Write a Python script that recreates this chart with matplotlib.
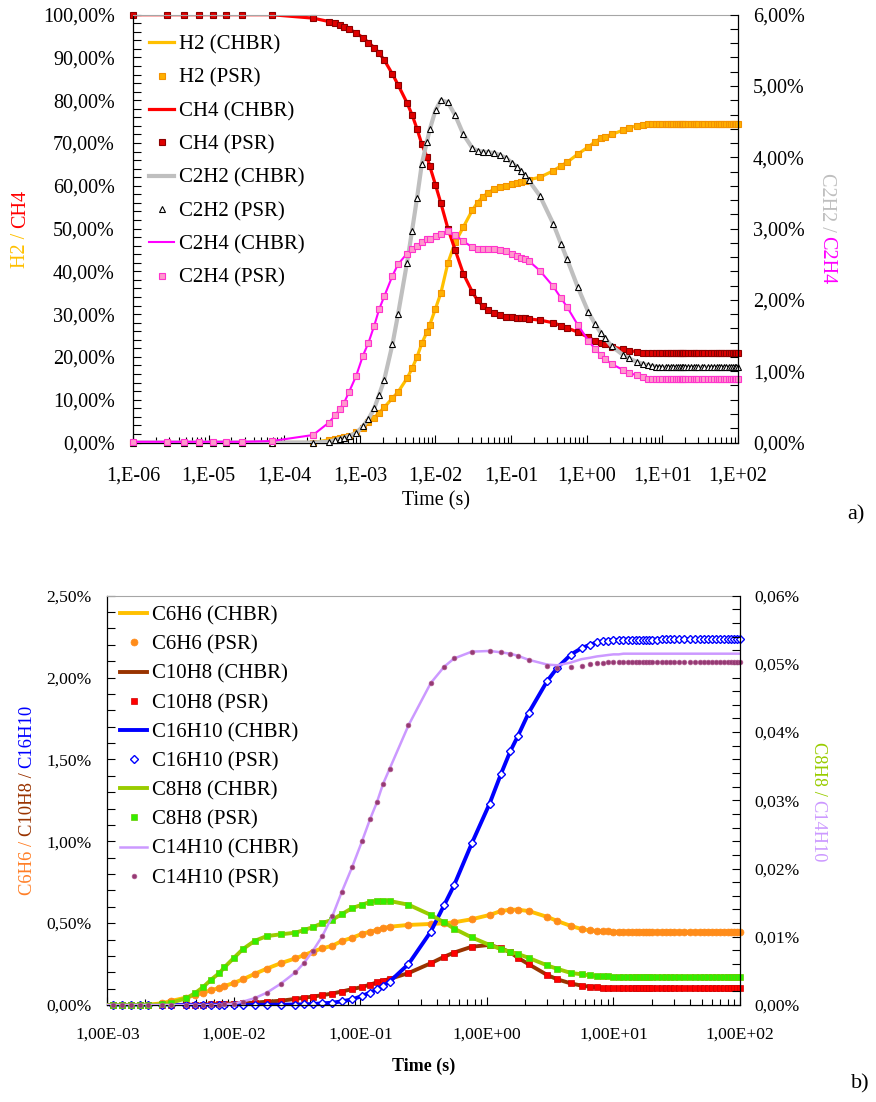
import numpy as np
import matplotlib
matplotlib.use("Agg")
import matplotlib.pyplot as plt
from matplotlib.ticker import (MultipleLocator, FuncFormatter, LogLocator,
                               NullFormatter, FixedLocator, FixedFormatter)
from matplotlib.lines import Line2D
from matplotlib.transforms import IdentityTransform

# ------------------------------------------------------------------ data
# PSR output times (s), shared by both panels
time_s = [1.0e-6, 2.8e-6, 4.7e-6, 7.5e-6, 1.15e-5, 1.7e-5, 2.75e-5, 6.8e-5, 2.4e-4,
          3.9e-4, 4.7e-4, 5.4e-4, 6.2e-4, 7.2e-4, 8.9e-4,
          1.1e-3, 1.3e-3, 1.55e-3, 1.8e-3, 2.1e-3, 2.7e-3, 3.2e-3, 4.2e-3, 4.9e-3, 5.7e-3,
          6.6e-3, 7.7e-3, 8.4e-3, 1.0e-2, 1.18e-2, 1.46e-2, 1.82e-2, 2.34e-2, 3.07e-2, 3.6e-2,
          4.2e-2, 5.0e-2, 6.0e-2, 7.1e-2, 8.6e-2, 0.103, 0.119, 0.135, 0.151, 0.17,
          0.24, 0.36, 0.46, 0.55, 0.76, 1.05, 1.29, 1.53, 1.75, 2.14,
          3.0, 3.6, 4.6, 5.6, 6.5, 7.4, 8.2, 9.0, 10, 11,
          12, 13, 14, 15, 16, 17, 18, 19, 20, 22,
          24, 26, 28, 30, 33, 36, 40, 44, 48, 52,
          56, 60, 65, 70, 75, 80, 85, 90, 95, 100]

# panel a) left axis (%)
h2_pct = [0, 0, 0, 0, 0, 0, 0, 0, 0,
          0.6, 0.8, 1.0, 1.3, 1.6, 2.4,
          3.5, 4.7, 5.8, 7.0, 8.2, 10.4, 11.8, 15.0, 17.3, 20.0,
          23.2, 25.8, 27.5, 31.3, 35.0, 42.0, 46.8, 50.4, 54.3, 56.1,
          57.4, 58.4, 59.3, 59.7, 60.0, 60.4, 60.6, 60.8, 61.1, 61.4,
          62.0, 63.5, 64.7, 65.5, 67.4, 69.1, 70.3, 71.1, 71.5, 72.0,
          73.0, 73.6, 74.0, 74.3, 74.4, 74.5, 74.5, 74.5, 74.5, 74.5,
          74.5, 74.5, 74.5, 74.5, 74.5, 74.5, 74.5, 74.5, 74.5, 74.5,
          74.5, 74.5, 74.5, 74.5, 74.5, 74.5, 74.5, 74.5, 74.5, 74.5,
          74.5, 74.5, 74.5, 74.5, 74.5, 74.5, 74.5, 74.5, 74.5, 74.5]
ch4_pct = [100, 100, 100, 100, 100, 100, 100, 100, 99.2,
           98.4, 98.0, 97.6, 97.2, 96.6, 95.8,
           94.6, 93.5, 92.3, 91.0, 89.4, 86.1, 83.6, 79.4, 76.6, 73.3,
           69.7, 66.8, 64.6, 60.2, 55.9, 50.0, 45.0, 39.4, 35.2, 33.2,
           32.0, 31.0, 30.2, 29.7, 29.4, 29.3, 29.2, 29.1, 29.0, 28.9,
           28.6, 28.0, 27.3, 26.8, 25.8, 24.6, 23.8, 23.3, 23.0, 22.4,
           21.8, 21.5, 21.2, 21.0, 20.95, 20.9, 20.85, 20.85, 20.85, 20.85,
           20.85, 20.85, 20.85, 20.85, 20.85, 20.85, 20.85, 20.85, 20.85, 20.85,
           20.85, 20.85, 20.85, 20.85, 20.85, 20.85, 20.85, 20.85, 20.85, 20.85,
           20.85, 20.85, 20.85, 20.85, 20.85, 20.85, 20.85, 20.85, 20.85, 20.85]
# panel a) right axis (%)
c2h2_pct = [0, 0, 0, 0, 0, 0, 0, 0, 0,
            0.01, 0.035, 0.05, 0.07, 0.09, 0.13,
            0.23, 0.33, 0.48, 0.67, 0.88, 1.38, 1.80, 2.52, 2.97, 3.43,
            3.91, 4.22, 4.39, 4.66, 4.80, 4.77, 4.59, 4.32, 4.13, 4.09,
            4.08, 4.07, 4.06, 4.03, 3.99, 3.92, 3.87, 3.81, 3.75, 3.68,
            3.46, 3.07, 2.78, 2.57, 2.18, 1.83, 1.66, 1.54, 1.46, 1.35,
            1.23, 1.18, 1.13, 1.10, 1.08, 1.07, 1.065, 1.06, 1.055, 1.055,
            1.055, 1.055, 1.055, 1.055, 1.055, 1.055, 1.055, 1.055, 1.055, 1.055,
            1.055, 1.055, 1.055, 1.055, 1.055, 1.055, 1.055, 1.055, 1.055, 1.055,
            1.055, 1.055, 1.055, 1.055, 1.055, 1.055, 1.055, 1.055, 1.055, 1.055]
c2h4_pct = [0.01, 0.01, 0.01, 0.01, 0.01, 0.01, 0.01, 0.02, 0.105,
            0.28, 0.38, 0.47, 0.56, 0.71, 0.93,
            1.22, 1.40, 1.64, 1.87, 2.05, 2.34, 2.50, 2.65, 2.71, 2.76,
            2.81, 2.85, 2.86, 2.90, 2.93, 2.96, 2.91, 2.82, 2.74, 2.71,
            2.71, 2.71, 2.71, 2.70, 2.69, 2.65, 2.62, 2.59, 2.57, 2.55,
            2.41, 2.19, 2.02, 1.90, 1.65, 1.43, 1.31, 1.23, 1.17, 1.10,
            1.02, 0.98, 0.94, 0.915, 0.895, 0.89, 0.888, 0.886, 0.886, 0.886,
            0.886, 0.886, 0.886, 0.886, 0.886, 0.886, 0.886, 0.886, 0.886, 0.886,
            0.886, 0.886, 0.886, 0.886, 0.886, 0.886, 0.886, 0.886, 0.886, 0.886,
            0.886, 0.886, 0.886, 0.886, 0.886, 0.886, 0.886, 0.886, 0.886, 0.886]

# panel b) uses the output times from 8.9e-4 s on
time_b = time_s[14:]
# panel b) left axis (%)
c6h6_pct = [0, 0, 0, 0, 0, 0.002,
            0.01, 0.025, 0.045, 0.06, 0.075,
            0.09, 0.105, 0.115, 0.135, 0.157, 0.19, 0.222, 0.255, 0.285, 0.305,
            0.326, 0.346, 0.362, 0.39, 0.411, 0.434, 0.448, 0.458, 0.469, 0.478,
            0.489, 0.495, 0.499, 0.505, 0.524, 0.550, 0.574, 0.582, 0.582, 0.574,
            0.538, 0.513, 0.483, 0.464, 0.456, 0.452, 0.450, 0.449, 0.448, 0.448,
            0.448, 0.448, 0.448, 0.448, 0.448, 0.448, 0.448, 0.448, 0.448, 0.448,
            0.448, 0.448, 0.448, 0.448, 0.448, 0.448, 0.448, 0.448, 0.448, 0.448,
            0.448, 0.448, 0.448, 0.448, 0.448, 0.448, 0.448, 0.448, 0.448, 0.448]
c10h8_pct = [0, 0, 0, 0, 0, 0,
             0, 0, 0.001, 0.002, 0.003,
             0.004, 0.006, 0.007, 0.009, 0.011, 0.014, 0.02, 0.026, 0.037, 0.045,
             0.051, 0.06, 0.07, 0.082, 0.097, 0.11, 0.124, 0.138, 0.148, 0.159,
             0.195, 0.255, 0.295, 0.32, 0.356, 0.367, 0.346, 0.322, 0.289, 0.249,
             0.183, 0.157, 0.132, 0.118, 0.112, 0.108, 0.105, 0.103, 0.102, 0.102,
             0.102, 0.102, 0.102, 0.102, 0.102, 0.102, 0.102, 0.102, 0.102, 0.102,
             0.102, 0.102, 0.102, 0.102, 0.102, 0.102, 0.102, 0.102, 0.102, 0.102,
             0.102, 0.102, 0.102, 0.102, 0.102, 0.102, 0.102, 0.102, 0.102, 0.102]
c16h10_pct = [0, 0, 0, 0, 0, 0,
              0, 0, 0, 0, 0,
              0, 0, 0, 0.0005, 0.001, 0.001, 0.0015, 0.002, 0.003, 0.004,
              0.006, 0.01, 0.014, 0.022, 0.034, 0.055, 0.076, 0.095, 0.117, 0.142,
              0.25, 0.448, 0.611, 0.731, 0.988, 1.23, 1.41, 1.55, 1.64, 1.785,
              1.98, 2.06, 2.14, 2.18, 2.20, 2.215, 2.222, 2.226, 2.229, 2.231,
              2.232, 2.232, 2.232, 2.232, 2.232, 2.232, 2.232, 2.232, 2.232, 2.232,
              2.234, 2.234, 2.234, 2.234, 2.234, 2.234, 2.234, 2.234, 2.234, 2.234,
              2.234, 2.234, 2.234, 2.234, 2.234, 2.234, 2.234, 2.234, 2.234, 2.234]
# panel b) right axis (%)
c8h8_pct = [0, 0, 0, 0, 0, 0,
            0.0001, 0.00034, 0.00098, 0.0017, 0.0026,
            0.0037, 0.0047, 0.0055, 0.0069, 0.0082, 0.0094, 0.0101, 0.01036, 0.0106, 0.0110,
            0.0114, 0.0120, 0.0125, 0.0133, 0.0142, 0.0147, 0.0151, 0.01525, 0.0153, 0.01525,
            0.0147, 0.0132, 0.0121, 0.0112, 0.0099, 0.0088, 0.0082, 0.0078, 0.0075, 0.0069,
            0.0058, 0.0053, 0.0047, 0.0045, 0.00435, 0.00425, 0.0042, 0.00418, 0.00416, 0.00415,
            0.00415, 0.00415, 0.00415, 0.00415, 0.00415, 0.00415, 0.00415, 0.00415, 0.00415, 0.00415,
            0.00415, 0.00415, 0.00415, 0.00415, 0.00415, 0.00415, 0.00415, 0.00415, 0.00415, 0.00415,
            0.00415, 0.00415, 0.00415, 0.00415, 0.00415, 0.00415, 0.00415, 0.00415, 0.00415, 0.00415]
c14h10_psr_pct = [0, 0, 0, 0, 0, 0,
                  0, 0, 0, 0, 0,
                  0, 0, 0.0001, 0.0002, 0.0005, 0.001, 0.0018, 0.0031, 0.0048, 0.0062,
                  0.0079, 0.0101, 0.013, 0.0165, 0.0202, 0.0240, 0.0272, 0.0297, 0.0324, 0.0346,
                  0.0410, 0.0472, 0.0496, 0.0508, 0.0518, 0.0519, 0.0517, 0.0515, 0.0512, 0.0506,
                  0.0497, 0.0494, 0.0495, 0.0497, 0.0500, 0.0501, 0.0502, 0.0503, 0.0503, 0.0503,
                  0.0503, 0.0503, 0.0503, 0.0503, 0.0503, 0.0503, 0.0503, 0.0503, 0.0503, 0.0503,
                  0.0503, 0.0503, 0.0503, 0.0503, 0.0503, 0.0503, 0.0503, 0.0503, 0.0503, 0.0503,
                  0.0503, 0.0503, 0.0503, 0.0503, 0.0503, 0.0503, 0.0503, 0.0503, 0.0503, 0.0503]
c14h10_chbr_pct = [0, 0, 0, 0, 0, 0,
                   0, 0, 0, 0, 0,
                   0, 0, 0.0001, 0.0002, 0.0005, 0.001, 0.0018, 0.0031, 0.0048, 0.0062,
                   0.0079, 0.0101, 0.013, 0.0165, 0.0202, 0.0240, 0.0272, 0.0297, 0.0324, 0.0346,
                   0.0410, 0.0472, 0.0496, 0.0508, 0.0518, 0.0519, 0.0517, 0.0515, 0.0512, 0.0506,
                   0.0499, 0.0498, 0.0502, 0.0507, 0.0509, 0.0511, 0.0512, 0.0513, 0.0514, 0.0514,
                   0.0515, 0.0515, 0.0515, 0.0515, 0.0515, 0.0515, 0.0515, 0.0515, 0.0515, 0.0515,
                   0.0515, 0.0515, 0.0515, 0.0515, 0.0515, 0.0515, 0.0515, 0.0515, 0.0515, 0.0515,
                   0.0515, 0.0515, 0.0515, 0.0515, 0.0515, 0.0515, 0.0515, 0.0515, 0.0515, 0.0515]

xticks_a = [1e-6, 1e-5, 1e-4, 1e-3, 1e-2, 1e-1, 1e0, 1e1, 1e2]
xlabels_a = ['1,E-06', '1,E-05', '1,E-04', '1,E-03', '1,E-02', '1,E-01', '1,E+00', '1,E+01', '1,E+02']
xticks_b = [1e-3, 1e-2, 1e-1, 1e0, 1e1, 1e2]
xlabels_b = ['1,00E-03', '1,00E-02', '1,00E-01', '1,00E+00', '1,00E+01', '1,00E+02']

labels_a = ['H2 (CHBR)', 'H2 (PSR)', 'CH4 (CHBR)', 'CH4 (PSR)',
            'C2H2 (CHBR)', 'C2H2 (PSR)', 'C2H4 (CHBR)', 'C2H4 (PSR)']
labels_b = ['C6H6 (CHBR)', 'C6H6 (PSR)', 'C10H8 (CHBR)', 'C10H8 (PSR)',
            'C16H10 (CHBR)', 'C16H10 (PSR)', 'C8H8 (CHBR)', 'C8H8 (PSR)',
            'C14H10 (CHBR)', 'C14H10 (PSR)']

# ------------------------------------------------------------------ figure
plt.rcParams['font.family'] = ['Liberation Serif', 'DejaVu Serif']
W, H = 876, 1102
fig = plt.figure(figsize=(W / 100, H / 100), dpi=100)


def rect(l, r, t, b):
    return [l / W, 1 - b / H, (r - l) / W, (b - t) / H]


def pct_fmt(dec):
    return FuncFormatter(lambda v, p: f"{v:.{dec}f}%".replace(".", ","))


def setup(ax, ax2, xt, xl, xlim, ylim_l, maj_l, min_l, dec_l, ylim_r, maj_r, min_r, dec_r,
          fs, xpad, lpad, rpad):
    ax.set_xscale('log')
    ax.set_xlim(*xlim)
    ax.set_ylim(*ylim_l)
    ax2.set_ylim(*ylim_r)
    ax.xaxis.set_major_locator(FixedLocator(xt))
    ax.xaxis.set_major_formatter(FixedFormatter(xl))
    ax.xaxis.set_minor_locator(LogLocator(base=10, subs=np.arange(2, 10), numticks=60))
    ax.xaxis.set_minor_formatter(NullFormatter())
    ax.yaxis.set_major_locator(MultipleLocator(maj_l))
    ax.yaxis.set_minor_locator(MultipleLocator(min_l))
    ax.yaxis.set_major_formatter(pct_fmt(dec_l))
    ax2.yaxis.set_major_locator(MultipleLocator(maj_r))
    ax2.yaxis.set_minor_locator(MultipleLocator(min_r))
    ax2.yaxis.set_major_formatter(pct_fmt(dec_r))
    ax.tick_params(axis='x', which='major', direction='in', length=6, width=0.8,
                   top=False, labelsize=fs, pad=xpad)
    ax.tick_params(axis='x', which='minor', direction='in', length=4, width=0.8, top=False)
    ax.tick_params(axis='y', which='both', direction='in', length=5.5, width=0.8,
                   right=False, labelsize=fs, pad=lpad)
    ax2.tick_params(axis='y', which='both', direction='in', length=5.5, width=0.8,
                    left=False, labelsize=fs, pad=rpad)
    ax.spines['top'].set_color('#A6A6A6')
    ax.spines['right'].set_visible(False)
    for s in ('top', 'left', 'bottom'):
        ax2.spines[s].set_visible(False)
    for s in ('left', 'bottom'):
        ax.spines[s].set_linewidth(0.9)
    ax2.spines['right'].set_linewidth(0.9)


def pair(ax, t, y, lkw, mkw, clip_first=0):
    ax.plot(t, y, solid_capstyle='butt', **lkw)
    ax.plot(t[clip_first:], y[clip_first:], linestyle='none', clip_on=False, **mkw)
    return (Line2D([], [], **lkw), Line2D([], [], linestyle='none', **mkw))


renderer = fig.canvas.get_renderer()


def text_len(s, size, weight='normal'):
    t1 = fig.text(0, 0, s + '|', fontsize=size, weight=weight, transform=IdentityTransform())
    t2 = fig.text(0, 0, '|', fontsize=size, weight=weight, transform=IdentityTransform())
    w = t1.get_window_extent(renderer).width - t2.get_window_extent(renderer).width
    t1.remove()
    t2.remove()
    return w


def multicolor(xc, yc, pieces, size, rot):
    full = ''.join(s for s, c in pieces)
    total = text_len(full, size)
    X = xc
    Y = H - yc
    prefix = ''
    for s, c in pieces:
        off = text_len(prefix, size) if prefix else 0.0
        if rot == 90:
            y0 = Y - total / 2 + off
        else:
            y0 = Y + total / 2 - off
        fig.text(X, y0, s, fontsize=size, color=c, rotation=rot, rotation_mode='anchor',
                 ha='left', va='center', transform=IdentityTransform())
        prefix += s


# ------------------------------------------------------------------ panel a
axA = fig.add_axes(rect(133, 738, 14.7, 442.5))
axA2 = axA.twinx()
setup(axA, axA2, xticks_a, xlabels_a, (1e-6, 1e2), (0, 100), 10, 2, 2, (0, 6), 1, 0.2, 2,
      14.5, 17, 13, 10.8)

hA = []
hA += pair(axA, time_s, h2_pct, dict(color='#FFC000', lw=2.3),
           dict(marker='s', ms=4.6, mfc='#FFB000', mec='#F39200', mew=0.8))
hA += pair(axA, time_s, ch4_pct, dict(color='#FF0000', lw=2.3),
           dict(marker='s', ms=4.6, mfc='#E00000', mec='#8B0000', mew=0.8))
hA += pair(axA2, time_s, c2h2_pct, dict(color='#BFBFBF', lw=3.0),
           dict(marker='^', ms=5.0, mfc='white', mec='black', mew=0.8))
hA += pair(axA2, time_s, c2h4_pct, dict(color='#FF00FF', lw=1.5),
           dict(marker='s', ms=4.6, mfc='#FF99CC', mec='#FF33CC', mew=0.8))

axA2.legend(hA, labels_a, loc='upper left', bbox_to_anchor=(149 / W, 1 - 35 / H),
            bbox_transform=fig.transFigure, frameon=False, fontsize=15,
            handlelength=1.2, handletextpad=0.25, labelspacing=0.66,
            borderpad=0, borderaxespad=0)

fig.text(435.5 / W, 1 - 501 / H, 'Time (s)', fontsize=14.5, ha='center', va='center')
multicolor(20.7, 228.6, [('H2 / ', '#FFC000'), ('CH4', '#FF0000')], 14.5, 90)
multicolor(826.7, 228.6, [('C2H2 / ', '#BFBFBF'), ('C2H4', '#FF00FF')], 14.5, 270)
fig.text(856 / W, 1 - 515 / H, 'a)', fontsize=16, ha='center', va='center')

# ------------------------------------------------------------------ panel b
axB = fig.add_axes(rect(107.3, 740, 595.7, 1005))
axB2 = axB.twinx()
setup(axB, axB2, xticks_b, xlabels_b, (1e-3, 1e2), (0, 2.5), 0.5, 0.1, 2, (0, 0.06), 0.01, 0.002, 2,
      12.6, 15.5, 11.2, 10)

hB = []
hB += pair(axB, time_b, c6h6_pct, dict(color='#FFC000', lw=2.8),
           dict(marker='o', ms=5, mfc='#FF8C1A', mec='#FF8C1A', mew=0.5), clip_first=1)
hB += pair(axB, time_b, c10h8_pct, dict(color='#993300', lw=2.8),
           dict(marker='s', ms=4.6, mfc='#FF0000', mec='#D00000', mew=0.5), clip_first=1)
hB += pair(axB, time_b, c16h10_pct, dict(color='#0000FF', lw=2.8),
           dict(marker='D', ms=3.6, mfc='white', mec='#0000FF', mew=1.0), clip_first=1)
hB += pair(axB2, time_b, c8h8_pct, dict(color='#99CC00', lw=2.8),
           dict(marker='s', ms=4.8, mfc='#33EE00', mec='#66CC00', mew=0.5), clip_first=1)
axB2.plot(time_b, c14h10_chbr_pct, color='#CC99FF', lw=1.8)
axB2.plot(time_b[1:], c14h10_psr_pct[1:], linestyle='none', clip_on=False,
          marker='o', ms=3.4, mfc='#953A73', mec='#B05A90', mew=0.5)
hB += [Line2D([], [], color='#CC99FF', lw=1.8),
       Line2D([], [], linestyle='none', marker='o', ms=3.4, mfc='#953A73', mec='#B05A90', mew=0.5)]

axB2.legend(hB, labels_b, loc='upper left', bbox_to_anchor=(120 / W, 1 - 606 / H),
            bbox_transform=fig.transFigure, frameon=False, fontsize=15,
            handlelength=1.3, handletextpad=0.25, labelspacing=0.46,
            borderpad=0, borderaxespad=0)

fig.text(423.6 / W, 1 - 1066 / H, 'Time (s)', fontsize=13, weight='bold', ha='center', va='center')
multicolor(27, 800, [('C6H6 / ', '#FF7F27'), ('C10H8 / ', '#993300'), ('C16H10', '#0000FF')], 13.4, 90)
multicolor(818, 802, [('C8H8 / ', '#99CC00'), ('C14H10', '#CC99FF')], 13.2, 270)
fig.text(860 / W, 1 - 1084 / H, 'b)', fontsize=16, ha='center', va='center')

fig.savefig('out.png', dpi=100)
